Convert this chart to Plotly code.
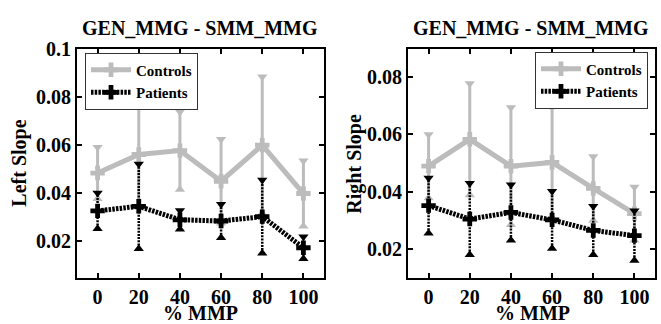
import plotly.graph_objects as go

# ---------------- data ----------------
mmp = [0, 20, 40, 60, 80, 100]
x_ticks = [0, 20, 40, 60, 80, 100]

left_ctrl_mean = [0.0484, 0.0561, 0.0577, 0.0450, 0.0600, 0.0399]
left_ctrl_err = [0.0107, 0.0213, 0.0161, 0.0174, 0.0284, 0.0136]
left_pat_mean = [0.0327, 0.0346, 0.0290, 0.0285, 0.0303, 0.0174]
left_pat_err = [0.0074, 0.0176, 0.0039, 0.0070, 0.0152, 0.0046]

right_ctrl_mean = [0.0489, 0.0583, 0.0489, 0.0502, 0.0411, 0.0323]
right_ctrl_err = [0.0111, 0.0195, 0.0205, 0.0192, 0.0112, 0.0093]
right_pat_mean = [0.0351, 0.0304, 0.0327, 0.0301, 0.0264, 0.0246]
right_pat_err = [0.0097, 0.0125, 0.0097, 0.0100, 0.0085, 0.0087]

left_yticks = [0.02, 0.04, 0.06, 0.08, 0.1]
left_ytick_text = ["0.02", "0.04", "0.06", "0.08", "0.1"]
right_yticks = [0.02, 0.04, 0.06, 0.08]
right_ytick_text = ["0.02", "0.04", "0.06", "0.08"]

title_text = "GEN_MMG - SMM_MMG"
left_ylabel = "Left Slope"
right_ylabel = "Right Slope"
xlabel = "% MMP"
series_names = ["Controls", "Patients"]

# ---------------- style ----------------
GRAY = "rgb(188,188,188)"
BLACK = "black"
FONT = "Liberation Serif"

W, H = 661, 324


def px(xp):
    return xp / W


def py(yp):
    return (H - yp) / H


fig = go.Figure()


def add_series(xa, ya, mean, err, color, name, dotted, legend):
    xs, ys = [], []
    for x, m, e in zip(mmp, mean, err):
        xs += [x, x, None]
        ys += [m - e, m + e, None]
    fig.add_trace(go.Scatter(
        x=xs, y=ys, mode="lines", xaxis=xa, yaxis=ya, showlegend=False,
        line=dict(color=color, width=2.5 if dotted else 3,
                  dash="2px,1.2px" if dotted else "solid"),
        hoverinfo="skip"))
    fig.add_trace(go.Scatter(
        x=mmp, y=[m + e for m, e in zip(mean, err)], mode="markers",
        xaxis=xa, yaxis=ya, showlegend=False,
        marker=dict(symbol="triangle-down", size=9, color=color)))
    fig.add_trace(go.Scatter(
        x=mmp, y=[m - e for m, e in zip(mean, err)], mode="markers",
        xaxis=xa, yaxis=ya, showlegend=False,
        marker=dict(symbol="triangle-up", size=9, color=color)))
    fig.add_trace(go.Scatter(
        x=mmp, y=mean, mode="lines+markers", name=name,
        xaxis=xa, yaxis=ya, legend=legend,
        line=dict(color=color, width=5, dash="2.5px,1.2px" if dotted else "solid"),
        marker=dict(symbol="cross", size=12, color=color)))


add_series("x", "y", left_ctrl_mean, left_ctrl_err, GRAY, series_names[0], False, "legend")
add_series("x", "y", left_pat_mean, left_pat_err, BLACK, series_names[1], True, "legend")
add_series("x2", "y2", right_ctrl_mean, right_ctrl_err, GRAY, series_names[0], False, "legend2")
add_series("x2", "y2", right_pat_mean, right_pat_err, BLACK, series_names[1], True, "legend2")

ax_common = dict(showline=True, linecolor="black", linewidth=2, mirror="ticks",
                 ticks="inside", ticklen=5, tickwidth=1.5, tickcolor="black",
                 showgrid=False, zeroline=False,
                 tickfont=dict(family=FONT, size=20, color="black", weight="bold"))

y_dom = [py(276), py(39)]

fig.update_layout(
    width=W, height=H,
    margin=dict(l=0, r=0, t=0, b=0),
    paper_bgcolor="white", plot_bgcolor="white",
    font=dict(family=FONT, color="black", weight="bold"),
    xaxis=dict(domain=[px(77), px(324)], range=[-10, 110], tickvals=x_ticks,
               anchor="y", **ax_common),
    yaxis=dict(domain=y_dom, range=[0.005, 0.1], tickvals=left_yticks,
               ticktext=left_ytick_text, anchor="x", **ax_common),
    xaxis2=dict(domain=[px(408), px(655)], range=[-10, 110], tickvals=x_ticks,
                anchor="y2", **ax_common),
    yaxis2=dict(domain=y_dom, range=[0.0099, 0.09], tickvals=right_yticks,
                ticktext=right_ytick_text, anchor="x2", **ax_common),
    legend=dict(x=px(85), y=py(43), xanchor="left", yanchor="top",
                bgcolor="white", bordercolor="#333", borderwidth=1,
                font=dict(family=FONT, size=15, color="black", weight="bold"),
                itemwidth=40, tracegroupgap=0),
    legend2=dict(x=px(648), y=py(42), xanchor="right", yanchor="top",
                 bgcolor="white", bordercolor="#333", borderwidth=1,
                 font=dict(family=FONT, size=15, color="black", weight="bold"),
                 itemwidth=40, tracegroupgap=0),
    showlegend=True,
)

ann_font = dict(family=FONT, size=20, color="black", weight="bold")
annots = [
    dict(text=title_text, x=px(200), y=py(18)),
    dict(text=title_text, x=px(531), y=py(18)),
    dict(text=xlabel, x=px(201), y=py(313)),
    dict(text=xlabel, x=px(532), y=py(313)),
    dict(text=left_ylabel, x=px(20), y=py(158), textangle=-90),
    dict(text=right_ylabel, x=px(355), y=py(158), textangle=-90),
]
for a in annots:
    fig.add_annotation(xref="paper", yref="paper", showarrow=False,
                       xanchor="center", yanchor="middle", font=ann_font, **a)

post = (
    "document.body.style.margin='0';"
    "document.body.style.overflow='hidden';"
    "var d=document.getElementById('{plot_id}');"
    "d.style.position='fixed';d.style.top='0px';d.style.left='0px';"
)
fig.write_html("out.html", config={"displayModeBar": False}, post_script=post)
